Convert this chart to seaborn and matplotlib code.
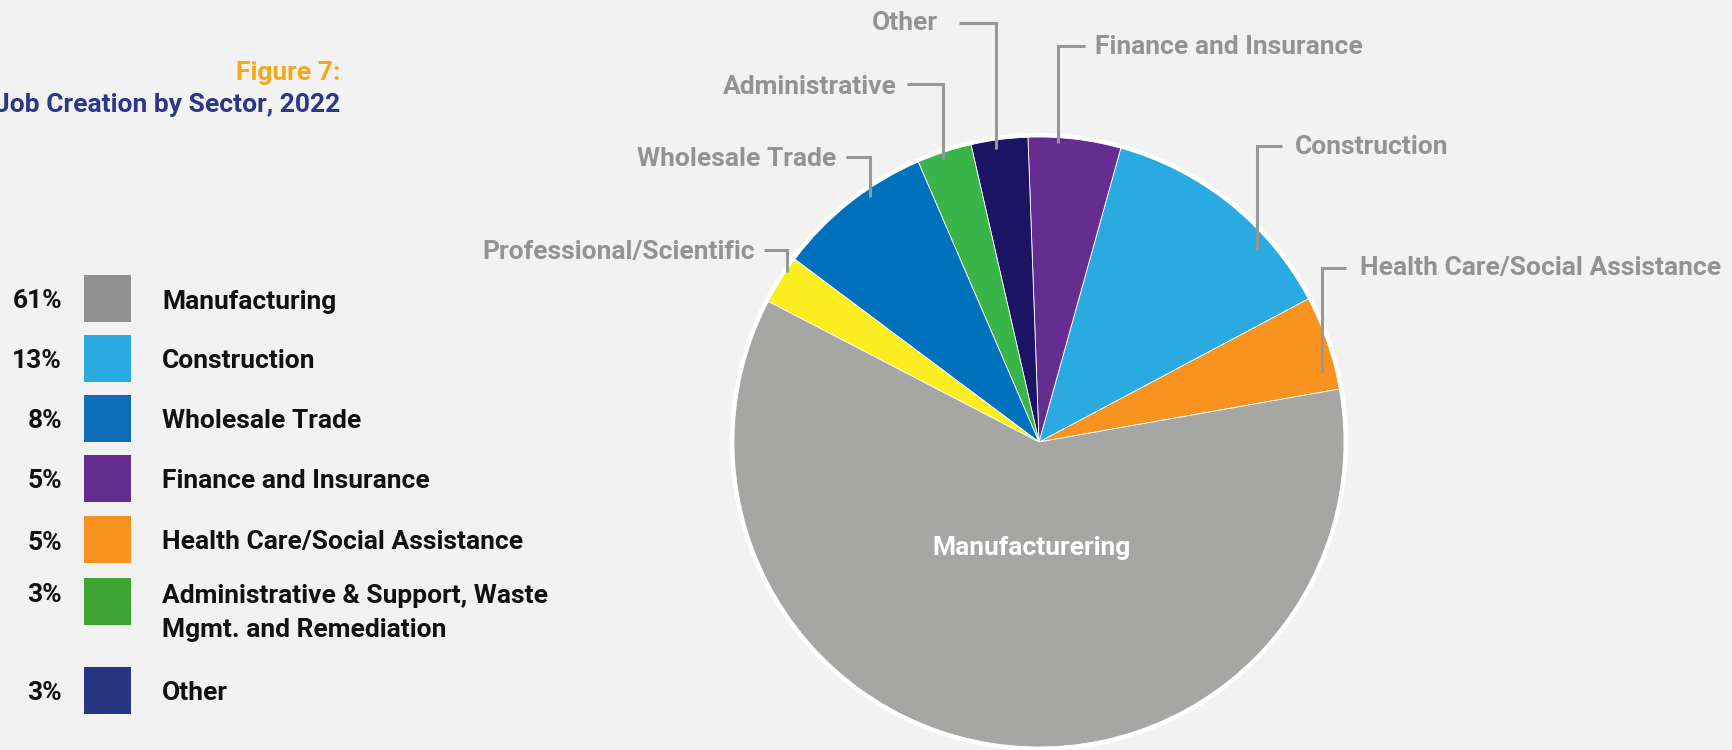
import numpy as np
import pandas as pd
import seaborn as sns
import matplotlib.pyplot as plt

# Style
sns.set_style("white")
plt.rcParams['font.family'] = ['Roboto', 'DejaVu Sans']

# -----------------------------
# DATA
# -----------------------------
# pie slices, counter-clockwise starting at the right edge
pie_sectors = ["Health Care/Social Assistance", "Construction", "Finance and Insurance",
               "Other", "Administrative", "Wholesale Trade",
               "Professional/Scientific", "Manufacturering"]
pie_values = [5.0, 12.9, 4.9, 3.0, 2.9, 8.3, 2.6, 60.4]
pie_colors = ["#f7931e", "#29abe2", "#662d91", "#1b1464",
              "#39b54a", "#0071bc", "#fcee21", "#a6a6a5"]

legend_pcts = ["61%", "13%", "8%", "5%", "5%", "3%", "3%"]
legend_labels = ["Manufacturing", "Construction", "Wholesale Trade",
                 "Finance and Insurance", "Health Care/Social Assistance",
                 "Administrative & Support, Waste\nMgmt. and Remediation", "Other"]
legend_colors = ["#909090", "#29abe2", "#0e6eb8", "#662d91",
                 "#f7931e", "#3fa535", "#283583"]

# -----------------------------
# LAYOUT (pixels, y measured from top)
# -----------------------------
W, H = 1733, 750
BG = "#f2f2f2"
cx, cy, r = 1039, 442, 305
leg_y = [298, 358, 418, 478, 539, 601, 690]
FS = 19
LABEL_GRAY = "#939393"
LINE_GRAY = "#979797"

# text anchor (x, y_center, ha) and leader line points for each outside label
label_layout = {
    "Other": (938, 20, 'right', [(959, 23), (996, 23), (996, 149)]),
    "Finance and Insurance": (1095, 44, 'left', [(1085, 46), (1058, 46), (1058, 143)]),
    "Administrative": (897, 85, 'right', [(907, 84), (943, 84), (943, 159)]),
    "Wholesale Trade": (836, 157, 'right', [(846, 157), (870, 157), (870, 197)]),
    "Professional/Scientific": (755, 249, 'right', [(764, 250), (787, 250), (787, 272)]),
    "Construction": (1295, 144, 'left', [(1282, 146), (1257, 146), (1257, 250)]),
    "Health Care/Social Assistance": (1360, 266, 'left', [(1346, 268), (1322, 268), (1322, 373)]),
}


def Y(y):
    return H - y


fig = plt.figure(figsize=(W / 100, H / 100), dpi=100, facecolor=BG)
ax = fig.add_axes([0, 0, 1, 1])
ax.set_facecolor(BG)

# -----------------------------
# PIE
# -----------------------------
ax.add_patch(plt.Circle((cx, Y(cy)), r + 3.5, color='white', zorder=0.5))
wedges, _ = ax.pie(pie_values, colors=pie_colors, startangle=10, counterclock=True,
                   center=(cx, Y(cy)), radius=r,
                   wedgeprops=dict(edgecolor='white', linewidth=0.6))

ax.text(1032, Y(555), "Manufacturering", ha='center', va='baseline',
        color='white', fontsize=FS, fontweight='bold')

for name, (tx, ty, ha, pts) in label_layout.items():
    ax.text(tx, Y(ty) - 9.5, name, ha=ha, va='baseline', color=LABEL_GRAY,
            fontsize=FS, fontweight='bold')
    xs = [p[0] for p in pts]
    ys = [Y(p[1]) for p in pts]
    ax.plot(xs, ys, color=LINE_GRAY, lw=2.2, solid_capstyle='butt',
            solid_joinstyle='miter', zorder=3)

# -----------------------------
# TITLE
# -----------------------------
ax.text(340, Y(80), "Figure 7:", ha='right', va='baseline',
        color='#f6a81c', fontsize=FS, fontweight='bold')
ax.text(340, Y(112), "Job Creation by Sector, 2022", ha='right', va='baseline',
        color='#2c3787', fontsize=FS, fontweight='bold')

# -----------------------------
# LEGEND (swatches via seaborn scatter)
# -----------------------------
df_leg = pd.DataFrame({'x': [107.5] * len(legend_labels),
                       'y': [Y(v) for v in leg_y],
                       'label': legend_labels})
sns.scatterplot(data=df_leg, x='x', y='y', hue='label',
                palette=dict(zip(legend_labels, legend_colors)),
                marker='s', s=(47 * 0.72) ** 2, linewidth=0,
                legend=False, ax=ax, zorder=3)

for pct, lab, yc in zip(legend_pcts, legend_labels, leg_y):
    lines = lab.split("\n")
    first = yc + 1 if len(lines) == 1 else yc - 8
    ax.text(62, Y(first) - 9.5, pct, ha='right', va='baseline',
            color='#111111', fontsize=FS, fontweight='bold')
    for i, line in enumerate(lines):
        ax.text(162, Y(first + 35 * i) - 9.5, line, ha='left', va='baseline',
                color='#111111', fontsize=FS, fontweight='bold')

ax.set_xlim(0, W)
ax.set_ylim(0, H)
ax.set_aspect('auto')
ax.axis('off')

plt.savefig("out.png", dpi=100, facecolor=BG)
